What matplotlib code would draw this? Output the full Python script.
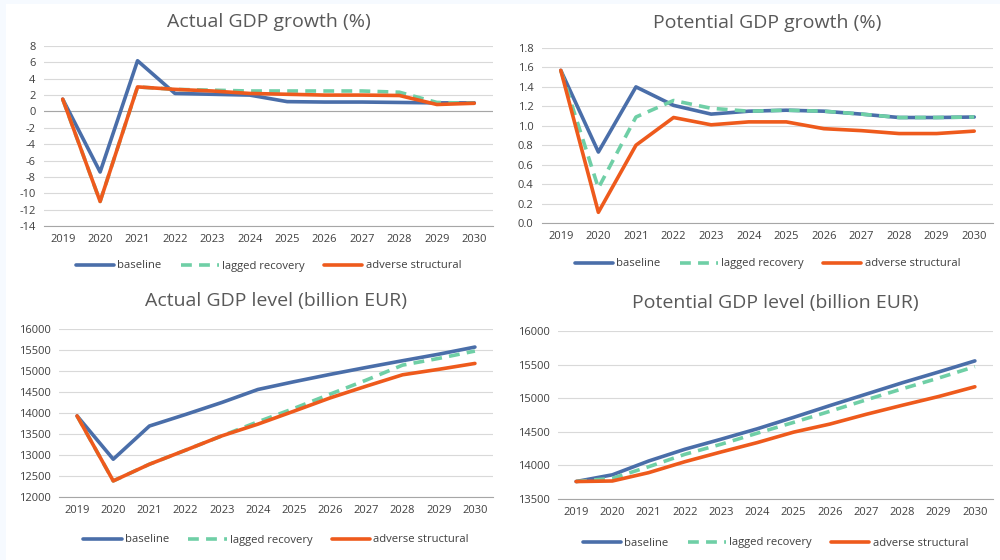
import numpy as np
import matplotlib
matplotlib.use("Agg")
import matplotlib.pyplot as plt
from matplotlib.patches import Rectangle

plt.rcParams['font.family'] = ['Open Sans', 'DejaVu Sans']

# Dati
years = [str(y) for y in range(2019, 2031)]

act_growth_base = [1.5, -7.4, 6.2, 2.2, 2.1, 2.0, 1.2, 1.15, 1.15, 1.1, 1.05, 1.05]
act_growth_lag = [1.5, -11.0, 3.0, 2.7, 2.6, 2.5, 2.5, 2.5, 2.5, 2.35, 1.1, 1.0]
act_growth_adv = [1.5, -11.0, 3.0, 2.7, 2.5, 2.2, 2.1, 2.0, 2.0, 1.95, 0.85, 1.0]

pot_growth_base = [1.57, 0.73, 1.40, 1.21, 1.12, 1.15, 1.16, 1.15, 1.12, 1.085, 1.085, 1.09]
pot_growth_lag = [1.57, 0.36, 1.09, 1.26, 1.18, 1.15, 1.16, 1.15, 1.12, 1.085, 1.085, 1.09]
pot_growth_adv = [1.57, 0.11, 0.80, 1.085, 1.01, 1.04, 1.04, 0.97, 0.95, 0.92, 0.92, 0.945]

act_level_base = [13930, 12900, 13690, 13965, 14250, 14560, 14745, 14920, 15085, 15245, 15400, 15570]
act_level_lag = [13930, 12383, 12780, 13115, 13455, 13790, 14110, 14450, 14785, 15140, 15300, 15475]
act_level_adv = [13930, 12383, 12780, 13115, 13455, 13735, 14045, 14360, 14640, 14910, 15040, 15180]

pot_level_base = [13760, 13860, 14065, 14240, 14390, 14545, 14715, 14890, 15060, 15230, 15390, 15555]
pot_level_lag = [13760, 13808, 13980, 14165, 14315, 14480, 14640, 14805, 14975, 15140, 15300, 15470]
pot_level_adv = [13760, 13768, 13892, 14055, 14200, 14340, 14495, 14615, 14760, 14895, 15025, 15170]

labels = ['baseline', 'lagged recovery', 'adverse structural']
colors = ['#4a6ea9', '#6fcfa6', '#ee5a1c']
styles = ['-', (0, (3, 2)), '-']

W, H = 1000, 560
fig = plt.figure(figsize=(10, 5.6), dpi=100, facecolor='#f6faff')
fig.patches.append(Rectangle((6 / W, 0), 1, 1 - 4 / H, transform=fig.transFigure,
                             facecolor='white', edgecolor='none', zorder=-1))


def pannello(box, title, series, ticks, fmt, title_y, leg_y, zero=None):
    x0, y0, x1, y1 = box
    ax = fig.add_axes([x0 / W, 1 - y1 / H, (x1 - x0) / W, (y1 - y0) / H])
    x = np.arange(len(years))
    for s, lab, c, ls in zip(series, labels, colors, styles):
        ax.plot(x, s, color=c, lw=2.6, ls=ls, label=lab, solid_capstyle='round')
    ax.set_xlim(-0.5, len(years) - 0.5)
    ax.set_ylim(ticks[0], ticks[-1])
    ax.set_yticks(ticks)
    ax.set_yticklabels([fmt(t) for t in ticks])
    ax.set_xticks(x)
    ax.set_xticklabels(years)
    ax.tick_params(length=0, labelsize=8, colors='#404040', pad=6)
    ax.grid(axis='y', color='#d9d9d9', lw=0.8)
    ax.set_axisbelow(True)
    for sp in ['top', 'right', 'left']:
        ax.spines[sp].set_visible(False)
    ax.spines['bottom'].set_color('#a6a6a6')
    if zero is not None:
        ax.axhline(zero, color='#a6a6a6', lw=0.8, zorder=1)
    cx = ((x0 + x1) / 2) / W
    fig.text(cx, 1 - title_y / H, title, ha='center', va='center', fontsize=14, color='#595959')
    ax.legend(loc='center', bbox_to_anchor=(0.5, 1 - (leg_y - y0) / (y1 - y0)), ncol=3, frameon=False,
              fontsize=8.1, handlelength=3.4, columnspacing=1.7, labelcolor='#404040', handletextpad=0.3)
    return ax


pannello((44, 46, 493, 226), 'Actual GDP growth (%)',
         [act_growth_base, act_growth_lag, act_growth_adv],
         list(range(-14, 9, 2)), lambda t: f'{t:d}', 22, 266, zero=0)
pannello((542, 48, 993, 223), 'Potential GDP growth (%)',
         [pot_growth_base, pot_growth_lag, pot_growth_adv],
         list(np.round(np.arange(0, 1.81, 0.2), 1)), lambda t: f'{t:.1f}', 23, 264)
pannello((59, 329, 493, 497), 'Actual GDP level (billion EUR)',
         [act_level_base, act_level_lag, act_level_adv],
         list(range(12000, 16001, 500)), lambda t: f'{t:d}', 301, 540)
pannello((558, 331, 993, 499), 'Potential GDP level (billion EUR)',
         [pot_level_base, pot_level_lag, pot_level_adv],
         list(range(13500, 16001, 500)), lambda t: f'{t:d}', 303, 543)

fig.savefig('out.png', dpi=100, facecolor=fig.get_facecolor())
